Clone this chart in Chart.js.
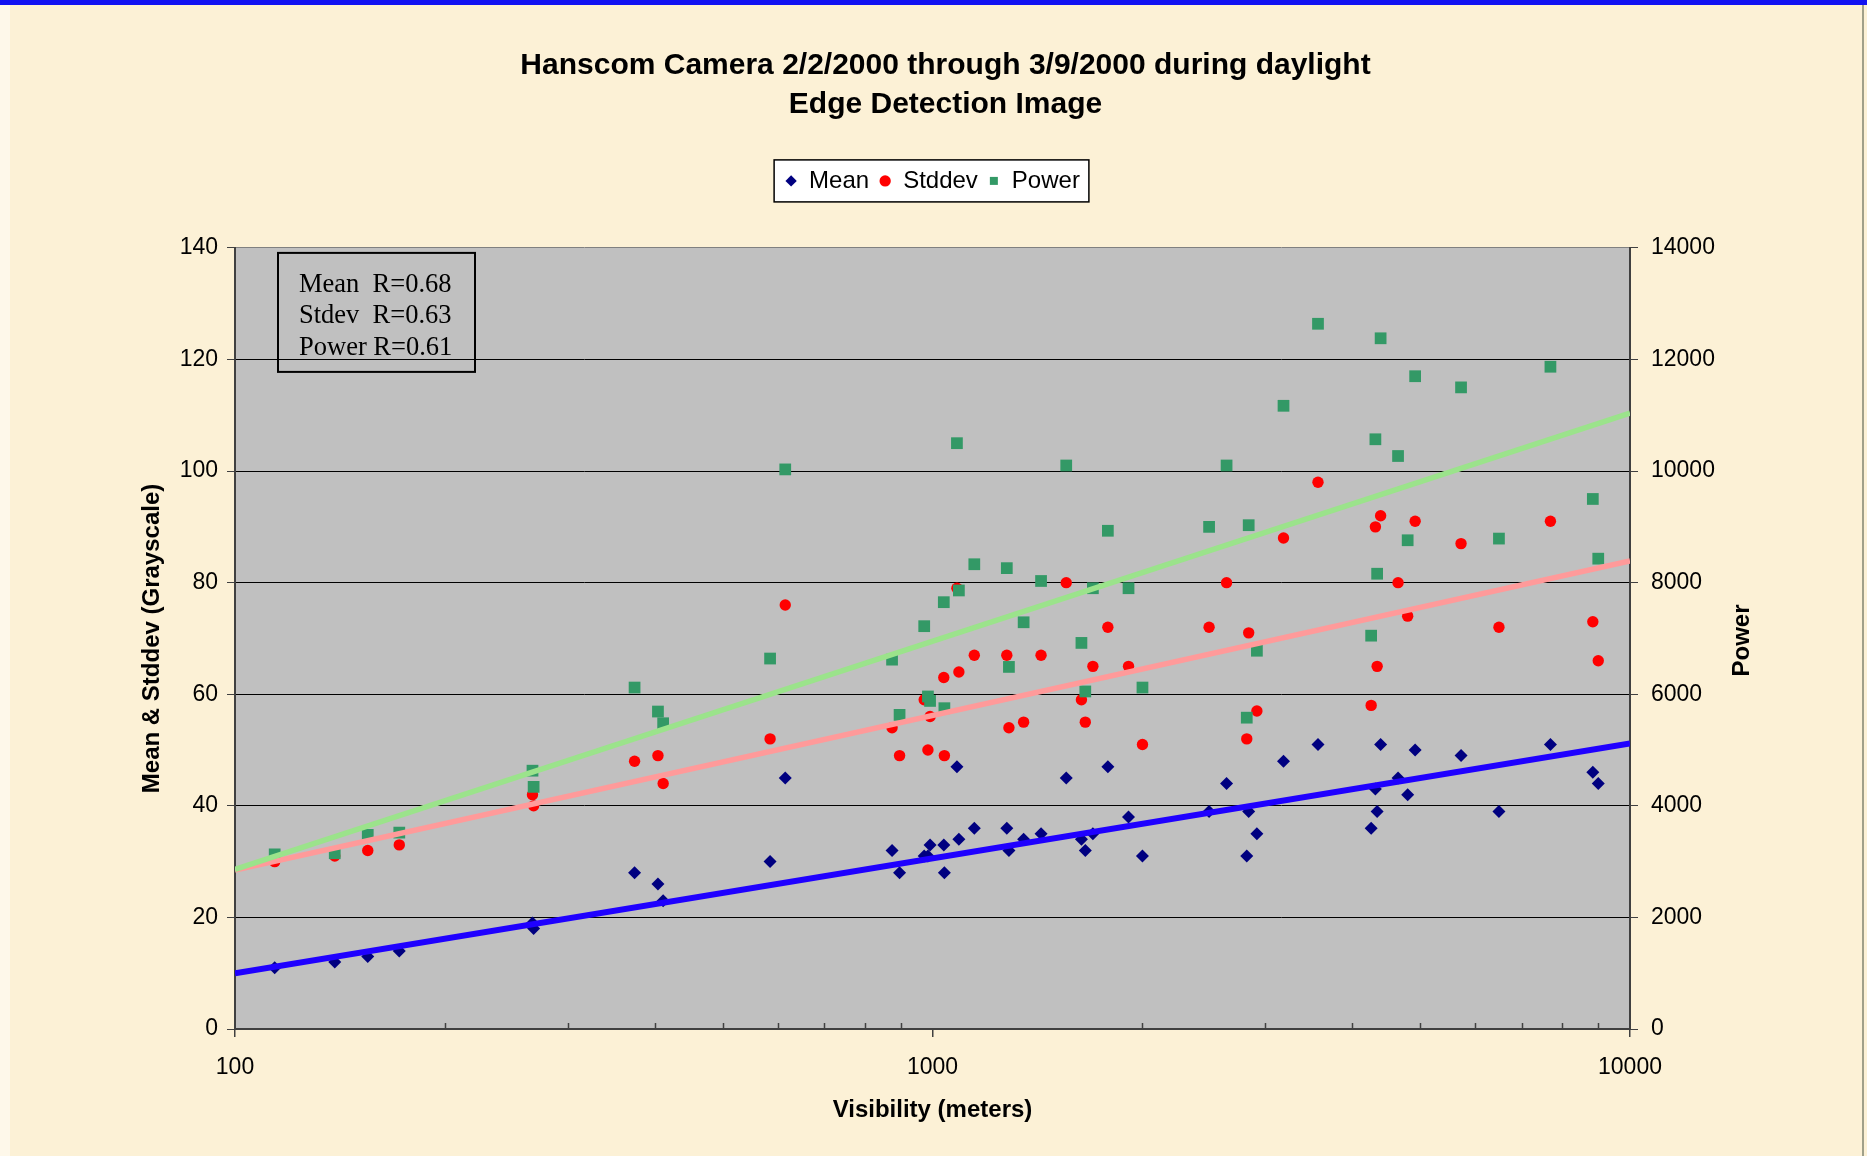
<!DOCTYPE html>
<html>
<head>
<meta charset="utf-8">
<title>Hanscom Camera - Edge Detection Image</title>
<script src="https://cdn.jsdelivr.net/npm/chart.js@4.4.1/dist/chart.umd.min.js"></script>
<style>
  html, body { margin: 0; padding: 0; background: #fcf1d6; }
  #wrap { position: relative; width: 1867px; height: 1156px; overflow: hidden; }
  #topbar { position: absolute; left: 0; top: 0; width: 1867px; height: 5px; background: #1212f2; }
  #leftedge { position: absolute; left: 0; top: 5px; width: 10px; height: 1151px; background: #fef8ea; }
  #rightedge { position: absolute; left: 1862px; top: 5px; width: 2px; height: 1151px; background: #a0a08a; }
  canvas { position: absolute; left: 0; top: 0; }
</style>
</head>
<body>
<div id="wrap">
  <div id="leftedge"></div>
  <canvas id="chart" width="1867" height="1156"></canvas>
  <div id="topbar"></div>
  <div id="rightedge"></div>
</div>
<script>
// one entry per daylight sample
var visibility = [114, 139, 155, 172, 267, 268, 374, 404, 411, 585, 615, 875, 897, 973, 985, 992, 1038, 1040, 1084, 1091, 1148, 1278, 1287, 1351, 1431, 1555, 1635, 1656, 1698, 1784, 1910, 2000, 2492, 2640, 2822, 2840, 2918, 3186, 3570, 4255, 4315, 4340, 4390, 4650, 4800, 4920, 5725, 6488, 7690, 8845, 9005];
var meanValues = [11, 12, 13, 14, 19, 18, 28, 26, 23, 30, 45, 32, 28, 31, 31, 33, 33, 28, 47, 34, 36, 36, 32, 34, 35, 45, 34, 32, 35, 47, 38, 31, 39, 44, 31, 39, 35, 48, 51, 36, 43, 39, 51, 45, 42, 50, 49, 39, 51, 46, 44];
var stddevValues = [30, 31, 32, 33, 42, 40, 48, 49, 44, 52, 76, 54, 49, 59, 50, 56, 63, 49, 79, 64, 67, 67, 54, 55, 67, 80, 59, 55, 65, 72, 65, 51, 72, 80, 52, 71, 57, 88, 98, 58, 90, 65, 92, 80, 74, 91, 87, 72, 91, 73, 66];
var powerValues = [3130, 3150, 3480, 3520, 4630, 4340, 6120, 5690, 5480, 6640, 10030, 6620, 5630, 7220, 5960, 5880, 7650, 5750, 10500, 7860, 8330, 8260, 6490, 7290, 8030, 10100, 6920, 6050, 7900, 8930, 7900, 6120, 9000, 10100, 5580, 9030, 6780, 11170, 12640, 7050, 10570, 8160, 12380, 10270, 8760, 11700, 11500, 8790, 11870, 9500, 8430];

// trend lines (log fit), ends read at 100 m and 10000 m
var trendX = [100, 10000];
var meanTrend = [10.0, 51.2];
var stddevTrend = [28.5, 83.9];
var powerTrend = [2860, 11040];

var xTicks = [100, 1000, 10000];
var minorXTicks = [200, 300, 400, 500, 600, 700, 800, 900, 2000, 3000, 4000, 5000, 6000, 7000, 8000, 9000];
var rLabels = ['Mean  R=0.68', 'Stdev  R=0.63', 'Power R=0.61'];

var sans = '"Liberation Sans", Arial, sans-serif';

function points(xs, ys) {
  return xs.map(function (x, i) { return { x: x, y: ys[i] }; });
}

var decorations = {
  id: 'decorations',
  beforeDraw: function (chart) {
    var ctx = chart.ctx, a = chart.chartArea;
    ctx.save();
    ctx.fillStyle = '#c0c0c0';
    ctx.fillRect(a.left, a.top, a.right - a.left, a.bottom - a.top);
    // white framed legend box
    var boxes = chart.legend.legendHitBoxes;
    if (boxes && boxes.length) {
      var l = Math.min.apply(null, boxes.map(function (b) { return b.left; })) - 11;
      var r = Math.max.apply(null, boxes.map(function (b) { return b.left + b.width; })) + 9;
      var t = boxes[0].top - 9, h = boxes[0].height + 18;
      ctx.fillStyle = '#ffffff';
      ctx.fillRect(l, t, r - l, h);
      ctx.strokeStyle = '#000000';
      ctx.lineWidth = 1.5;
      ctx.strokeRect(l, t, r - l, h);
    }
    ctx.restore();
  },
  afterDraw: function (chart) {
    var ctx = chart.ctx, a = chart.chartArea, xs = chart.scales.x;
    ctx.save();
    // minor ticks point up into the plot
    ctx.strokeStyle = '#404040';
    ctx.lineWidth = 1.5;
    minorXTicks.forEach(function (v) {
      var px = Math.round(xs.getPixelForValue(v)) + 0.5;
      ctx.beginPath();
      ctx.moveTo(px, a.bottom);
      ctx.lineTo(px, a.bottom - 6);
      ctx.stroke();
    });
    // correlation box
    var bx = a.left + 43, by = a.top + 5;
    ctx.lineWidth = 2;
    ctx.strokeStyle = '#000000';
    ctx.strokeRect(bx, by, 197, 119);
    ctx.fillStyle = '#000000';
    ctx.font = '26.5px "Liberation Serif", "Times New Roman", serif';
    ctx.textAlign = 'left';
    ctx.textBaseline = 'alphabetic';
    rLabels.forEach(function (s, i) {
      ctx.fillText(s, bx + 21, by + 39 + i * 31.3);
    });
    // right axis title reads bottom-to-top
    ctx.translate(a.right + 112, (a.top + a.bottom) / 2 + 2);
    ctx.rotate(-Math.PI / 2);
    ctx.font = 'bold 24px ' + sans;
    ctx.textAlign = 'center';
    ctx.textBaseline = 'middle';
    ctx.fillText('Power', 0, 0);
    ctx.restore();
  }
};

var tickFont = { family: sans, size: 23 };

new Chart(document.getElementById('chart'), {
  type: 'scatter',
  data: {
    datasets: [
      { label: 'Mean', data: points(visibility, meanValues), pointStyle: 'rectRot', pointRadius: 6.5,
        backgroundColor: '#000080', borderColor: '#000080', borderWidth: 0, xAxisID: 'x', yAxisID: 'y', order: 5 },
      { label: 'Stddev', data: points(visibility, stddevValues), pointStyle: 'circle', pointRadius: 5.7,
        backgroundColor: '#ff0000', borderColor: '#ff0000', borderWidth: 0, xAxisID: 'x', yAxisID: 'y', order: 4 },
      { label: 'Power', data: points(visibility, powerValues), pointStyle: 'rect', pointRadius: 8.3,
        backgroundColor: '#339966', borderColor: '#339966', borderWidth: 0, xAxisID: 'x', yAxisID: 'y2', order: 3 },
      { label: 'Mean fit', data: points(trendX, meanTrend), showLine: true, pointRadius: 0,
        borderColor: '#1f00ff', borderWidth: 6, xAxisID: 'x', yAxisID: 'y', order: 2 },
      { label: 'Stddev fit', data: points(trendX, stddevTrend), showLine: true, pointRadius: 0,
        borderColor: '#ff9a9a', borderWidth: 5.5, xAxisID: 'x', yAxisID: 'y', order: 1 },
      { label: 'Power fit', data: points(trendX, powerTrend), showLine: true, pointRadius: 0,
        borderColor: '#9be38b', borderWidth: 5.5, xAxisID: 'x', yAxisID: 'y2', order: 0 }
    ]
  },
  options: {
    responsive: false,
    animation: false,
    devicePixelRatio: 1,
    events: [],
    // the title sits a little right of the page centre
    layout: { padding: { left: 24, right: 0, top: 0, bottom: 0 } },
    plugins: {
      tooltip: { enabled: false },
      title: {
        display: true,
        text: ['Hanscom Camera 2/2/2000 through 3/9/2000 during daylight', 'Edge Detection Image'],
        color: '#000000',
        font: { family: sans, size: 30, weight: 'bold', lineHeight: 1.31 },
        padding: { top: 46, bottom: 34.3 }
      },
      legend: {
        display: true,
        position: 'top',
        fullSize: false,
        labels: {
          usePointStyle: true,
          boxWidth: 12,
          boxHeight: 8,
          padding: 10,
          color: '#000000',
          font: { family: sans, size: 24 },
          filter: function (item) { return item.datasetIndex < 3; },
          sort: function (a, b) { return a.datasetIndex - b.datasetIndex; }
        }
      }
    },
    scales: {
      x: {
        type: 'logarithmic',
        position: 'bottom',
        min: 100,
        max: 10000,
        afterBuildTicks: function (s) { s.ticks = xTicks.map(function (v) { return { value: v, major: true }; }); },
        afterFit: function (s) { s.height = 127; },
        grid: { drawOnChartArea: false, drawTicks: true, tickLength: 8, color: '#404040', tickColor: '#404040', lineWidth: 1.5 },
        border: { display: true, color: '#404040', width: 2 },
        ticks: { color: '#000000', font: tickFont, padding: 16.5, maxRotation: 0, autoSkip: false,
                 callback: function (v) { return String(v); } },
        title: { display: true, text: 'Visibility (meters)', color: '#000000',
                 font: { family: sans, size: 24, weight: 'bold' }, padding: { top: 0, bottom: 31.5 } }
      },
      gap: {
        type: 'linear',
        position: 'top',
        display: true,
        grid: { display: false, drawTicks: false },
        border: { display: false },
        ticks: { display: false },
        afterFit: function (s) { s.height = 45; }
      },
      y: {
        position: 'left',
        min: 0,
        max: 140,
        afterFit: function (s) { s.width = 211; },
        ticks: { stepSize: 20, padding: 9, color: '#000000', font: tickFont,
                 callback: function (v) { return String(v); } },
        grid: {
          color: function (c) { return c.tick && c.tick.value === 140 ? '#808080' : '#000000'; },
          lineWidth: 1, tickColor: '#404040', tickLength: 8
        },
        border: { display: true, color: '#404040', width: 2 },
        title: { display: true, text: 'Mean & Stddev (Grayscale)', color: '#000000',
                 font: { family: sans, size: 24, weight: 'bold' }, padding: { top: 113.5, bottom: 0 } }
      },
      y2: {
        position: 'right',
        min: 0,
        max: 14000,
        afterFit: function (s) { s.width = 237; },
        ticks: { stepSize: 2000, padding: 13, color: '#000000', font: tickFont,
                 callback: function (v) { return String(v); } },
        grid: { drawOnChartArea: false, tickColor: '#404040', tickLength: 8 },
        border: { display: true, color: '#404040', width: 2 }
      }
    }
  },
  plugins: [decorations]
});
</script>
</body>
</html>
